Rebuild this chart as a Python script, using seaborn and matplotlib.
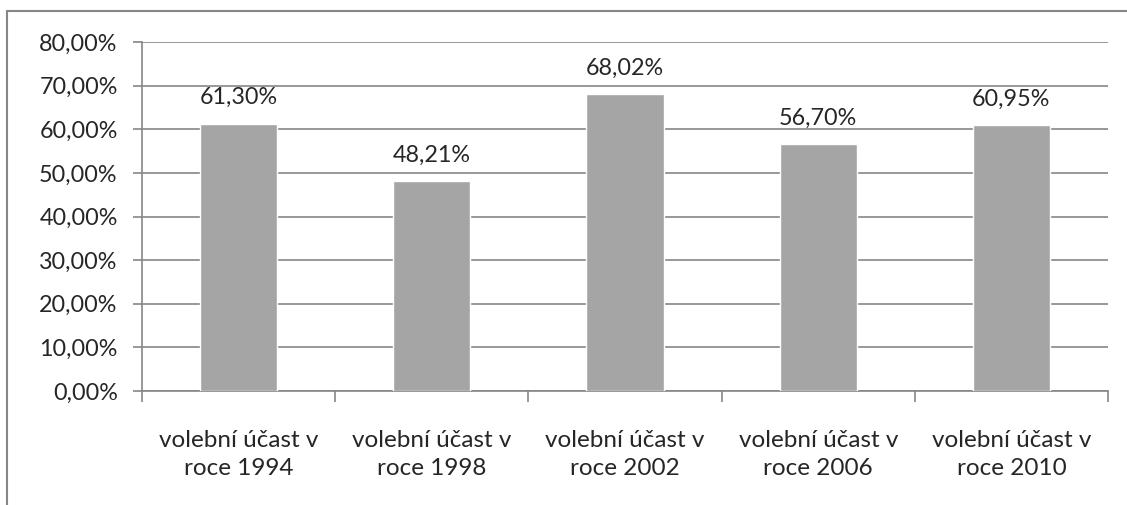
import matplotlib
matplotlib.use("Agg")
import matplotlib.pyplot as plt
import matplotlib.patches as mpatches
import pandas as pd
import seaborn as sns
from matplotlib.ticker import FuncFormatter, FixedLocator

categories = [
    "volební účast v\nroce 1994",
    "volební účast v\nroce 1998",
    "volební účast v\nroce 2002",
    "volební účast v\nroce 2006",
    "volební účast v\nroce 2010",
]
turnout = [61.30, 48.21, 68.02, 56.70, 60.95]
y_ticks = [0, 10, 20, 30, 40, 50, 60, 70, 80]

sns.set_theme(style="white")
plt.rcParams["font.family"] = ["Lato", "DejaVu Sans"]

df = pd.DataFrame({"kategorie": categories, "ucast": turnout})

fig = plt.figure(figsize=(11.27, 5.05), dpi=100)
ax = fig.add_axes([142 / 1127, 1 - 391 / 505, (1108 - 142) / 1127, (391 - 42) / 505])

grid_c = "#868686"
sns.barplot(data=df, x="kategorie", y="ucast", color="#A5A5A5", width=0.4,
            saturation=1, ax=ax, zorder=3)

ax.set_ylim(0, 80)
ax.set_xlim(-0.5, len(categories) - 0.5)
ax.yaxis.set_major_locator(FixedLocator(y_ticks))
ax.yaxis.set_major_formatter(FuncFormatter(lambda v, p: f"{v:.2f}".replace(".", ",") + "%"))
ax.grid(True, axis="y", color=grid_c, linewidth=1.2, zorder=0)
ax.set_axisbelow(True)
ax.set_xlabel("")
ax.set_ylabel("")

for s in ["top", "right"]:
    ax.spines[s].set_visible(False)
for s in ["left", "bottom"]:
    ax.spines[s].set_color(grid_c)
    ax.spines[s].set_linewidth(1.2)

ax.tick_params(axis="y", length=6.5, width=1.2, color=grid_c, labelsize=16.8, pad=11, left=True)
ax.set_xticks(range(len(categories)))
ax.set_xticklabels(categories, fontsize=17.5, linespacing=1.4)
ax.tick_params(axis="x", which="major", length=0, pad=28)
ax.set_xticks([i - 0.5 for i in range(len(categories) + 1)], minor=True)
ax.tick_params(axis="x", which="minor", length=8, width=1.2, color=grid_c, bottom=True)

labels = [f"{v:.2f}".replace(".", ",") + "%" for v in turnout]
ax.bar_label(ax.containers[0], labels=labels, padding=11, fontsize=16.8)

frame = mpatches.Rectangle((7 / 1127, -0.1), 1.2, 1 - 11 / 505 + 0.1,
                           transform=fig.transFigure, fill=False,
                           edgecolor="#868686", linewidth=1.5, clip_on=False)
fig.patches.append(frame)

fig.savefig("out.png", dpi=100)
